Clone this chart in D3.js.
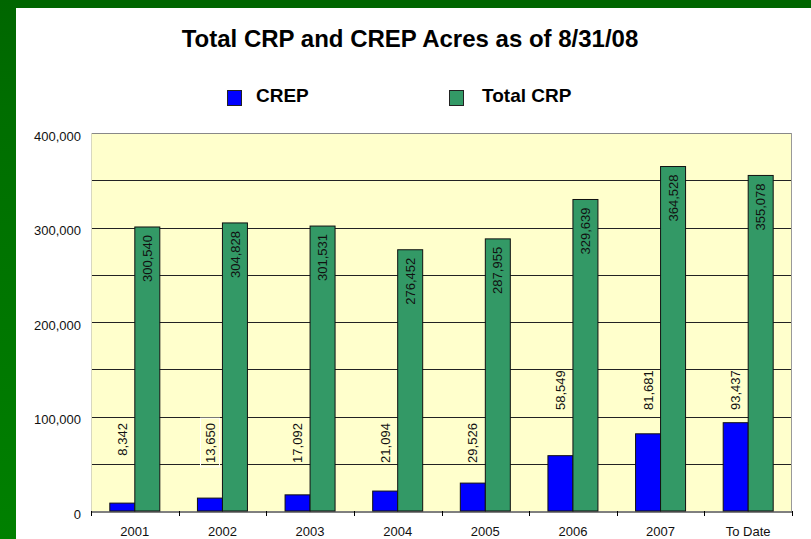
<!DOCTYPE html>
<html>
<head>
<meta charset="utf-8">
<script src="https://cdn.jsdelivr.net/npm/d3@7"></script>
<style>
  body { margin: 0; background: #fff; }
  svg { display: block; font-family: "Liberation Sans", Arial, sans-serif; }
</style>
</head>
<body>
<div id="chart"></div>
<script>
// data
var categories = ["2001", "2002", "2003", "2004", "2005", "2006", "2007", "To Date"];
var crep = [8342, 13650, 17092, 21094, 29526, 58549, 81681, 93437];
var totalCrp = [300540, 304828, 301531, 276452, 287955, 329639, 364528, 355078];
var seriesNames = ["CREP", "Total CRP"];
var yTicks = [0, 100000, 200000, 300000, 400000];

var W = 811, H = 539;
var plot = { left: 91, right: 792, top: 133, bottom: 511 };

var svg = d3.select("#chart").append("svg")
    .attr("width", W)
    .attr("height", H);

// green frame (top band + left strip)
var grad = svg.append("defs").append("linearGradient")
    .attr("id", "frame").attr("x1", 0).attr("y1", 0).attr("x2", 0).attr("y2", 1);
grad.append("stop").attr("offset", "0").attr("stop-color", "#006600");
grad.append("stop").attr("offset", "0.2").attr("stop-color", "#006e00");
grad.append("stop").attr("offset", "1").attr("stop-color", "#008000");
svg.append("rect").attr("x", 0).attr("y", 0).attr("width", W).attr("height", 8).attr("fill", "#006600");
svg.append("rect").attr("x", 0).attr("y", 0).attr("width", 16).attr("height", H).attr("fill", "url(#frame)");

var color = d3.scaleOrdinal().domain(seriesNames).range(["#0000ff", "#339966"]);

var x = d3.scaleBand()
    .domain(categories)
    .range([plot.left, plot.right]);

var xSub = d3.scaleBand()
    .domain(seriesNames)
    .range([-25, 25]);

var y = d3.scaleLinear()
    .domain([0, 400000])
    .range([plot.bottom, plot.top]);

// plot background
svg.append("rect")
    .attr("x", plot.left).attr("y", plot.top)
    .attr("width", plot.right - plot.left).attr("height", plot.bottom - plot.top)
    .attr("fill", "#ffffcc");

// grid lines every 50,000
svg.append("g").selectAll("line")
    .data(d3.range(50000, 400001, 50000))
    .enter().append("line")
    .attr("x1", plot.left).attr("x2", plot.right)
    .attr("y1", function (d) { return Math.round(y(d)) + 0.5; })
    .attr("y2", function (d) { return Math.round(y(d)) + 0.5; })
    .attr("stroke", function (d) { return d == 400000 ? "#888" : "#222"; })
    .attr("stroke-width", 1);

// plot border left/right
svg.append("line")
    .attr("x1", plot.left + 0.5).attr("x2", plot.left + 0.5)
    .attr("y1", plot.top).attr("y2", plot.bottom)
    .attr("stroke", "#d8d8c0");
svg.append("line")
    .attr("x1", plot.right - 0.5).attr("x2", plot.right - 0.5)
    .attr("y1", plot.top).attr("y2", plot.bottom)
    .attr("stroke", "#999");

// y axis labels
svg.append("g").selectAll("text")
    .data(yTicks)
    .enter().append("text")
    .attr("x", plot.left - 10)
    .attr("y", function (d) { return y(d) + 3; })
    .attr("dy", "0.35em")
    .attr("text-anchor", "end")
    .attr("font-size", 13)
    .attr("fill", "#111")
    .text(d3.format(","));

// x axis
var xAxis = svg.append("g")
    .attr("transform", "translate(0," + (plot.bottom + 0.5) + ")")
    .call(d3.axisBottom(x).tickSize(0).tickPadding(15));
xAxis.select(".domain").attr("stroke", "#000");
xAxis.selectAll("text").attr("font-size", 13).attr("fill", "#111")
    .attr("font-family", "Liberation Sans, Arial, sans-serif");

// tick marks between categories
svg.append("g").selectAll("line")
    .data(d3.range(categories.length + 1))
    .enter().append("line")
    .attr("x1", function (i) { return Math.round(plot.left + i * x.step()) + 0.5; })
    .attr("x2", function (i) { return Math.round(plot.left + i * x.step()) + 0.5; })
    .attr("y1", plot.bottom).attr("y2", plot.bottom + 5)
    .attr("stroke", "#000");

// bars
var rows = categories.map(function (c, i) {
    return { cat: c, values: [{ key: "CREP", value: crep[i] }, { key: "Total CRP", value: totalCrp[i] }] };
});

var groups = svg.append("g").selectAll("g")
    .data(rows)
    .enter().append("g")
    .attr("transform", function (d) { return "translate(" + (x(d.cat) + x.bandwidth() / 2) + ",0)"; });

groups.selectAll("rect")
    .data(function (d) { return d.values; })
    .enter().append("rect")
    .attr("x", function (d) { return xSub(d.key); })
    .attr("y", function (d) { return y(d.value); })
    .attr("width", xSub.bandwidth())
    .attr("height", function (d) { return y(0) - y(d.value); })
    .attr("fill", function (d) { return color(d.key); })
    .attr("stroke", "#111")
    .attr("stroke-width", 1);

// value labels, rotated
groups.selectAll("text")
    .data(function (d) { return d.values; })
    .enter().append("text")
    .attr("class", function (d, i) { return "lbl" + i; })
    .attr("transform", function (d) {
        var cx = xSub(d.key) + xSub.bandwidth() / 2;
        var top;
        if (d.key == "CREP") top = y(d.value < 50000 ? 93000 : 149000);
        else top = y(d.value) + 8;
        return "translate(" + cx + "," + top + ") rotate(-90)";
    })
    .attr("dy", "0.35em")
    .attr("text-anchor", "end")
    .attr("font-size", 13)
    .attr("fill", "#111")
    .text(function (d) { return d3.format(",")(d.value); });

// selected-label outline seen around the 2002 CREP label
var sel = groups.filter(function (d) { return d.cat == "2002"; }).select("text.lbl0");
var bb = sel.node().getBBox();
groups.filter(function (d) { return d.cat == "2002"; })
    .insert("rect", "text")
    .attr("transform", sel.attr("transform"))
    .attr("x", bb.x - 4).attr("y", bb.y - 2)
    .attr("width", bb.width + 9).attr("height", bb.height + 4)
    .attr("fill", "none")
    .attr("stroke", "#fff");

// title
svg.append("text")
    .attr("x", 410)
    .attr("y", 47)
    .attr("text-anchor", "middle")
    .attr("font-weight", "bold")
    .attr("font-size", 24)
    .attr("fill", "#000")
    .text("Total CRP and CREP Acres as of 8/31/08");

// legend
var legendX = [227, 449];
var legend = svg.selectAll(".lineLegend").data(seriesNames)
    .enter().append("g")
    .attr("class", "lineLegend")
    .attr("transform", function (d, i) { return "translate(" + legendX[i] + ",90)"; });

legend.append("rect")
    .attr("x", 0.5).attr("y", 0.5)
    .attr("width", 14).attr("height", 15)
    .attr("fill", function (d) { return color(d); })
    .attr("stroke", "#222");

legend.append("text")
    .attr("x", function (d, i) { return i == 0 ? 29 : 33; })
    .attr("y", 12)
    .attr("font-weight", "bold")
    .attr("font-size", 19)
    .attr("fill", "#000")
    .text(function (d) { return d; });
</script>
</body>
</html>
